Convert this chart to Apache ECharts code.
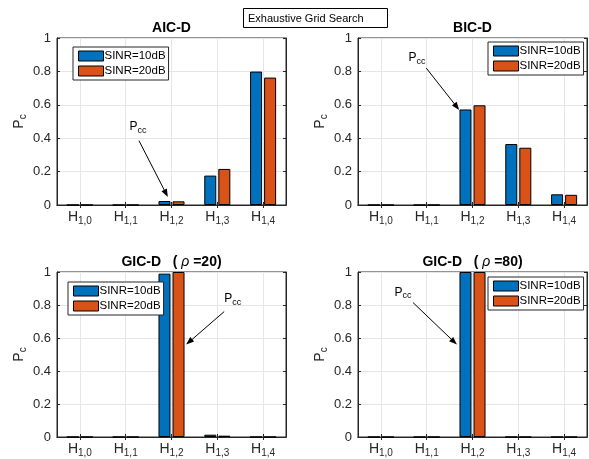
<!DOCTYPE html>
<html>
<head>
<meta charset="utf-8">
<script src="https://cdn.jsdelivr.net/npm/echarts@6/dist/echarts.min.js"></script>
<style>
html,body{margin:0;padding:0;background:#fff;}
#chart{width:589px;height:459px;}
</style>
</head>
<body>
<div id="chart"></div>
<script>
// ---------------- data ----------------
const categories = ['H1,0', 'H1,1', 'H1,2', 'H1,3', 'H1,4'];
const categorySubs = ['1,0', '1,1', '1,2', '1,3', '1,4'];
const seriesNames = ['SINR=10dB', 'SINR=20dB'];
const yTicks = [0, 0.2, 0.4, 0.6, 0.8, 1];

const aic10 = [0, 0, 0.024, 0.176, 0.799];
const aic20 = [0, 0, 0.022, 0.216, 0.763];
const bic10 = [0, 0, 0.572, 0.365, 0.064];
const bic20 = [0, 0, 0.597, 0.343, 0.061];
const gic20_10 = [0, 0, 0.99, 0.014, 0];
const gic20_20 = [0, 0, 1.0, 0.008, 0];
const gic80_10 = [0, 0, 1.0, 0, 0];
const gic80_20 = [0, 0, 1.0, 0, 0];

const panelTitles = ['AIC-D', 'BIC-D', 'GIC-D   ( {i|ρ} =20)', 'GIC-D   ( {i|ρ} =80)'];
const panelValues = [[aic10, aic20], [bic10, bic20], [gic20_10, gic20_20], [gic80_10, gic80_20]];
const headerText = 'Exhaustive Grid Search';

// annotation anchors in data units: [categoryIndex (fractional), value]
const annText = [[1.27, 0.46], [0.79, 0.875], [3.34, 0.83], [0.48, 0.87]];
const annFrom = [[1.29, 0.385], [0.99, 0.82], [3.15, 0.76], [0.70, 0.815]];
const annTo = [[1.92, 0.048], [1.71, 0.569], [2.32, 0.56], [1.66, 0.56]];

// ---------------- layout / style ----------------
const grids = [
  {left: 57, top: 38, width: 229, height: 167},
  {left: 358, top: 38, width: 229, height: 167},
  {left: 57, top: 272, width: 229, height: 166},
  {left: 358, top: 272, width: 229, height: 166}
];
const legendPos = [
  {left: 73, top: 47}, {left: 488, top: 42}, {left: 68, top: 282}, {left: 488, top: 277}
];
const colors = ['#0072BD', '#D95319'];
const axisColor = '#262626';
const gridColor = '#e6e6e6';
const FONT = '"Liberation Sans", Arial, Helvetica, sans-serif';

const chart = echarts.init(document.getElementById('chart'), null, {renderer: 'canvas'});

const option = {
  animation: false,
  backgroundColor: '#fff',
  textStyle: {fontFamily: FONT},
  title: [{
    text: headerText,
    left: 243, top: 8,
    padding: [5, 24, 4, 5],
    borderColor: '#000', borderWidth: 1,
    backgroundColor: '#fff',
    textStyle: {fontSize: 11, fontWeight: 'normal', color: '#000', fontFamily: FONT}
  }],
  grid: [], xAxis: [], yAxis: [], series: [], legend: [], graphic: []
};

grids.forEach((g, i) => {
  option.grid.push(Object.assign({
    show: true, borderColor: axisColor, borderWidth: 1, backgroundColor: '#fff',
    containLabel: false
  }, g));
  option.xAxis.push({
    type: 'category', gridIndex: i, data: categories, position: 'bottom',
    axisLine: {show: true, lineStyle: {color: axisColor, width: 1}},
    axisTick: {show: true, inside: true, alignWithLabel: true, length: 3, lineStyle: {color: axisColor}},
    splitLine: {show: true, alignWithLabel: true, lineStyle: {color: gridColor, width: 1}},
    axisLabel: {
      margin: 5, interval: 0,
      formatter: (v, idx) => '{h|H}{s|' + categorySubs[idx] + '}',
      rich: {
        h: {fontSize: 14, color: axisColor, fontFamily: FONT, lineHeight: 16, verticalAlign: 'top', padding: [0, 0, 3, 0]},
        s: {fontSize: 10, color: axisColor, fontFamily: FONT, lineHeight: 10, verticalAlign: 'bottom'}
      }
    }
  });
  option.xAxis.push({
    type: 'category', gridIndex: i, data: categories, position: 'top',
    axisLine: {show: true, lineStyle: {color: axisColor, width: 1}},
    axisTick: {show: true, inside: true, alignWithLabel: true, length: 3, lineStyle: {color: axisColor}},
    axisLabel: {show: false}, splitLine: {show: false}
  });
  option.yAxis.push({
    type: 'value', gridIndex: i, min: 0, max: 1, interval: 0.2, position: 'left',
    axisLine: {show: true, lineStyle: {color: axisColor, width: 1}},
    axisTick: {show: true, inside: true, length: 3, lineStyle: {color: axisColor}},
    splitLine: {show: true, lineStyle: {color: gridColor, width: 1}},
    axisLabel: {fontSize: 13, color: axisColor, margin: 6, fontFamily: FONT,
      formatter: v => String(Math.round(v * 10) / 10)},
    name: '{p|P}{c|c}', nameLocation: 'middle', nameRotate: 90, nameGap: 25,
    nameTextStyle: {
      rich: {
        p: {fontSize: 14, color: axisColor, fontFamily: FONT, lineHeight: 16, verticalAlign: 'top', padding: [0, 0, 3, 0]},
        c: {fontSize: 10, color: axisColor, fontFamily: FONT, lineHeight: 10, verticalAlign: 'bottom'}
      }
    }
  });
  option.yAxis.push({
    type: 'value', gridIndex: i, min: 0, max: 1, interval: 0.2, position: 'right',
    axisLine: {show: true, lineStyle: {color: axisColor, width: 1}},
    axisTick: {show: true, inside: true, length: 3, lineStyle: {color: axisColor}},
    splitLine: {show: false}, axisLabel: {show: false}
  });
  panelValues[i].forEach((vals, s) => {
    option.series.push({
      type: 'bar', name: seriesNames[s], xAxisIndex: 2 * i, yAxisIndex: 2 * i,
      data: vals, barWidth: 12, barGap: '17%',
      itemStyle: {color: colors[s], borderColor: '#000', borderWidth: 1},
      emphasis: {disabled: true}
    });
  });
  option.legend.push({
    data: seriesNames, orient: 'vertical', left: legendPos[i].left, top: legendPos[i].top,
    itemWidth: 25, itemHeight: 10, itemGap: 3, icon: 'rect',
    padding: [3, 3, 3, 5],
    backgroundColor: '#fff', borderColor: axisColor, borderWidth: 1, borderRadius: 0,
    itemStyle: {borderColor: '#000', borderWidth: 1},
    textStyle: {fontSize: 11.5, color: '#000', fontFamily: FONT, padding: [0, 0, 0, -4]},
    selectedMode: false
  });
  option.graphic.push({
    type: 'text', x: g.left + g.width / 2, y: g.top - 10, z: 10,
    style: {
      text: '{b|' + panelTitles[i].replace('{i|ρ}', '}{i|ρ}{b|') + '}',
      align: 'center', verticalAlign: 'middle',
      rich: {
        b: {fontSize: 14, fontWeight: 'bold', fill: '#000', fontFamily: FONT},
        i: {fontSize: 14, fontStyle: 'italic', fill: '#000', fontFamily: FONT}
      }
    }
  });
});

chart.setOption(option);

// annotations (P_cc with arrows), positioned from data coordinates
function toPixel(i, pt) {
  const finder = {xAxisIndex: 2 * i, yAxisIndex: 2 * i};
  const k = Math.floor(pt[0]);
  const p0 = chart.convertToPixel(finder, [k, pt[1]]);
  const p1 = chart.convertToPixel(finder, [k + 1 <= 4 ? k + 1 : k - 1, pt[1]]);
  const step = (k + 1 <= 4) ? (p1[0] - p0[0]) : (p0[0] - p1[0]);
  return [p0[0] + (pt[0] - k) * step, p0[1]];
}
const extra = [];
grids.forEach((g, i) => {
  const t = toPixel(i, annText[i]);
  const a = toPixel(i, annFrom[i]);
  const b = toPixel(i, annTo[i]);
  extra.push({
    type: 'text', x: t[0], y: t[1], z: 20,
    style: {
      text: '{p|P}{s|cc}', align: 'center', verticalAlign: 'middle',
      rich: {
        p: {fontSize: 12, fill: '#000', fontFamily: FONT, lineHeight: 14, verticalAlign: 'top', padding: [0, 0, 3, 0]},
        s: {fontSize: 9, fill: '#000', fontFamily: FONT, lineHeight: 9, verticalAlign: 'bottom'}
      }
    }
  });
  const dx = b[0] - a[0], dy = b[1] - a[1];
  const L = Math.sqrt(dx * dx + dy * dy);
  const ux = dx / L, uy = dy / L;
  const hl = 8, hw = 3;
  const bx = b[0] - ux * hl, by = b[1] - uy * hl;
  extra.push({
    type: 'line', z: 20,
    shape: {x1: a[0], y1: a[1], x2: bx + ux * 2, y2: by + uy * 2},
    style: {stroke: '#000', lineWidth: 1}
  });
  extra.push({
    type: 'polygon', z: 20,
    shape: {points: [[b[0], b[1]], [bx - uy * hw, by + ux * hw], [bx + uy * hw, by - ux * hw]]},
    style: {fill: '#000'}
  });
});
chart.setOption({graphic: option.graphic.concat(extra)});
</script>
</body>
</html>
